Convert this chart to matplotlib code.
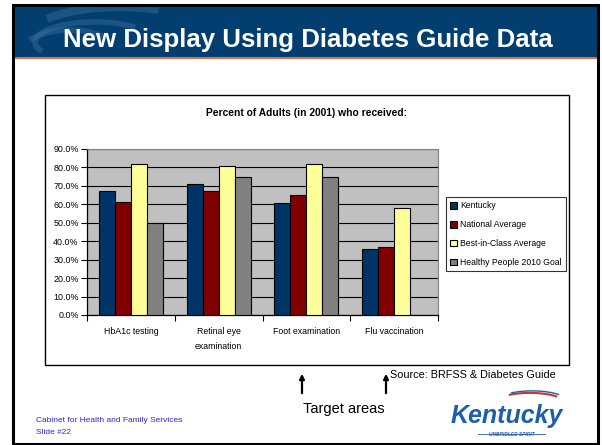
import matplotlib
matplotlib.use("Agg")
import matplotlib.pyplot as plt
import numpy as np
from matplotlib.patches import Rectangle, Arc, FancyArrowPatch

plt.rcParams['font.family'] = ['Liberation Sans', 'DejaVu Sans']

# ---------------- data ----------------
categories = ["HbA1c testing", "Retinal eye\nexamination", "Foot examination", "Flu vaccination"]
series_names = ["Kentucky", "National Average", "Best-in-Class Average", "Healthy People 2010 Goal"]
kentucky = [67.5, 71.0, 60.5, 36.0]
national = [61.0, 67.0, 65.0, 37.0]
best_in_class = [82.0, 81.0, 82.0, 58.0]
healthy_people = [50.0, 75.0, 75.0, np.nan]
series_colors = ["#003366", "#800000", "#FFFF99", "#808080"]
y_ticks = [0, 10, 20, 30, 40, 50, 60, 70, 80, 90]

W, H = 602, 445
fig = plt.figure(figsize=(W / 100, H / 100), dpi=100)


def fx(x):
    return x / W


def fy(y):
    return 1 - y / H


def frect(x0, y0, x1, y1, **kw):
    r = Rectangle((fx(x0), fy(y1)), fx(x1) - fx(x0), fy(y0) - fy(y1),
                  transform=fig.transFigure, **kw)
    fig.add_artist(r)
    return r


# ---------------- slide header ----------------
frect(13, 5, 598, 57, facecolor="#023E70", edgecolor="none", zorder=-2)
# decorative swirl
hdr = fig.add_axes([fx(13), fy(57), fx(598) - fx(13), fy(5) - fy(57)], zorder=-1)
hdr.set_xlim(13, 598)
hdr.set_ylim(57, 5)
hdr.axis("off")
hdr.patch.set_alpha(0)
for (cx, cy, w, h, t1, t2, lw) in [
    (120, 32, 170, 50, 190, 330, 6),
    (95, 42, 120, 40, 170, 340, 4),
    (160, 18, 200, 34, 200, 300, 5),
    (70, 55, 100, 50, 200, 330, 4),
]:
    a = Arc((cx, cy), w, h, theta1=t1, theta2=t2, color="#4A7DAB", lw=lw, alpha=0.35)
    hdr.add_patch(a)
    a.set_clip_path(hdr.patch)
fig.text(fx(308), fy(40), "New Display Using Diabetes Guide Data", color="white",
         fontsize=18.6, fontweight="bold", ha="center", va="center", zorder=5)
fig.add_artist(plt.Line2D([fx(13), fx(598)], [fy(57.5), fy(57.5)], color="#C55A2B",
                          lw=1.2, transform=fig.transFigure))

# slide border
frect(13, 5, 598, 444, facecolor="none", edgecolor="black", lw=2.2, zorder=10)

# ---------------- chart box ----------------
frect(45, 95, 569, 365, facecolor="white", edgecolor="black", lw=1.0, zorder=-1)
fig.text(fx(307), fy(113), "Percent of Adults (in 2001) who received:", fontsize=7.4,
         fontweight="bold", ha="center", va="center")

ax = fig.add_axes([fx(87), fy(315), fx(438) - fx(87), fy(149) - fy(315)], zorder=1)
ax.set_facecolor("#C0C0C0")
ax.set_xlim(-0.5, len(categories) - 0.5)
ax.set_ylim(0, 90)
ax.set_yticks(y_ticks)
ax.set_yticklabels([f"{v:.1f}%" for v in y_ticks], fontsize=6.4)
ax.yaxis.grid(True, color="black", lw=0.8)
ax.set_axisbelow(True)

all_series = [kentucky, national, best_in_class, healthy_people]
n = len(all_series)
bw = 1 / (n + 1.5)
x = np.arange(len(categories))
for i, (vals, col, name) in enumerate(zip(all_series, series_colors, series_names)):
    offs = (i - (n - 1) / 2) * bw
    ax.bar(x + offs, vals, width=bw, color=col, edgecolor="black", lw=0.8, label=name, zorder=3)

ax.set_xticks(x)
ax.set_xticklabels(categories, fontsize=6.3, linespacing=1.8)
ax.tick_params(axis="x", length=0, pad=9)
ax.set_xticks(np.arange(-0.5, len(categories) + 0.5, 1), minor=True)
ax.tick_params(axis="x", which="minor", length=4, width=0.8, direction="out")
ax.tick_params(axis="y", length=4, width=0.8, direction="out", pad=2)
for s in ["left", "bottom"]:
    ax.spines[s].set_color("black")
    ax.spines[s].set_linewidth(0.9)
for s in ["top", "right"]:
    ax.spines[s].set_color("#808080")
    ax.spines[s].set_linewidth(0.8)

leg = fig.legend(loc="upper left", bbox_to_anchor=(fx(446), fy(197)),
                 bbox_transform=fig.transFigure, fontsize=6.2, frameon=True,
                 fancybox=False, edgecolor="black", handlelength=0.8, handleheight=0.8,
                 handletextpad=0.3, labelspacing=1.15, borderpad=0.5, borderaxespad=0)
leg.get_frame().set_linewidth(0.8)
leg.set_zorder(5)

# ---------------- annotations below ----------------
for ax_x in (302, 386):
    fig.add_artist(FancyArrowPatch((fx(ax_x), fy(396)), (fx(ax_x), fy(371)),
                                   transform=fig.transFigure, arrowstyle="-|>",
                                   mutation_scale=7, lw=1.6, color="black"))
fig.text(fx(390), fy(375), "Source: BRFSS & Diabetes Guide", fontsize=7.8,
         ha="left", va="center")
fig.text(fx(344), fy(409), "Target areas", fontsize=10.5, ha="center", va="center")
fig.text(fx(36), fy(420), "Cabinet for Health and Family Services", fontsize=6,
         color="#2A2ACC", ha="left", va="center")
fig.text(fx(36), fy(433), "Slide #22", fontsize=6, color="#2A2ACC", ha="left", va="center")

# Kentucky logo (text rendition)
fig.text(fx(507), fy(416), "Kentucky", fontsize=18, fontweight="bold", fontstyle="italic",
         family=["Liberation Sans", "DejaVu Sans"], color="#1F5FA8", ha="center", va="center")
fig.text(fx(512), fy(434), "UNBRIDLED SPIRIT", fontsize=3.5, fontweight="bold",
         fontstyle="italic", color="#1F5FA8", ha="center", va="center")
fig.add_artist(plt.Line2D([fx(478), fx(545)], [fy(434), fy(434)], color="#1F5FA8",
                          lw=0.6, transform=fig.transFigure))
fig.add_artist(Arc((fx(530), fy(404)), 0.12, 0.05, theta1=20, theta2=150,
                   transform=fig.transFigure, color="#C0392B", lw=1.5))
fig.add_artist(Arc((fx(532), fy(402)), 0.12, 0.05, theta1=20, theta2=150,
                   transform=fig.transFigure, color="#1F5FA8", lw=1.0))

fig.savefig("out.png", dpi=100)
